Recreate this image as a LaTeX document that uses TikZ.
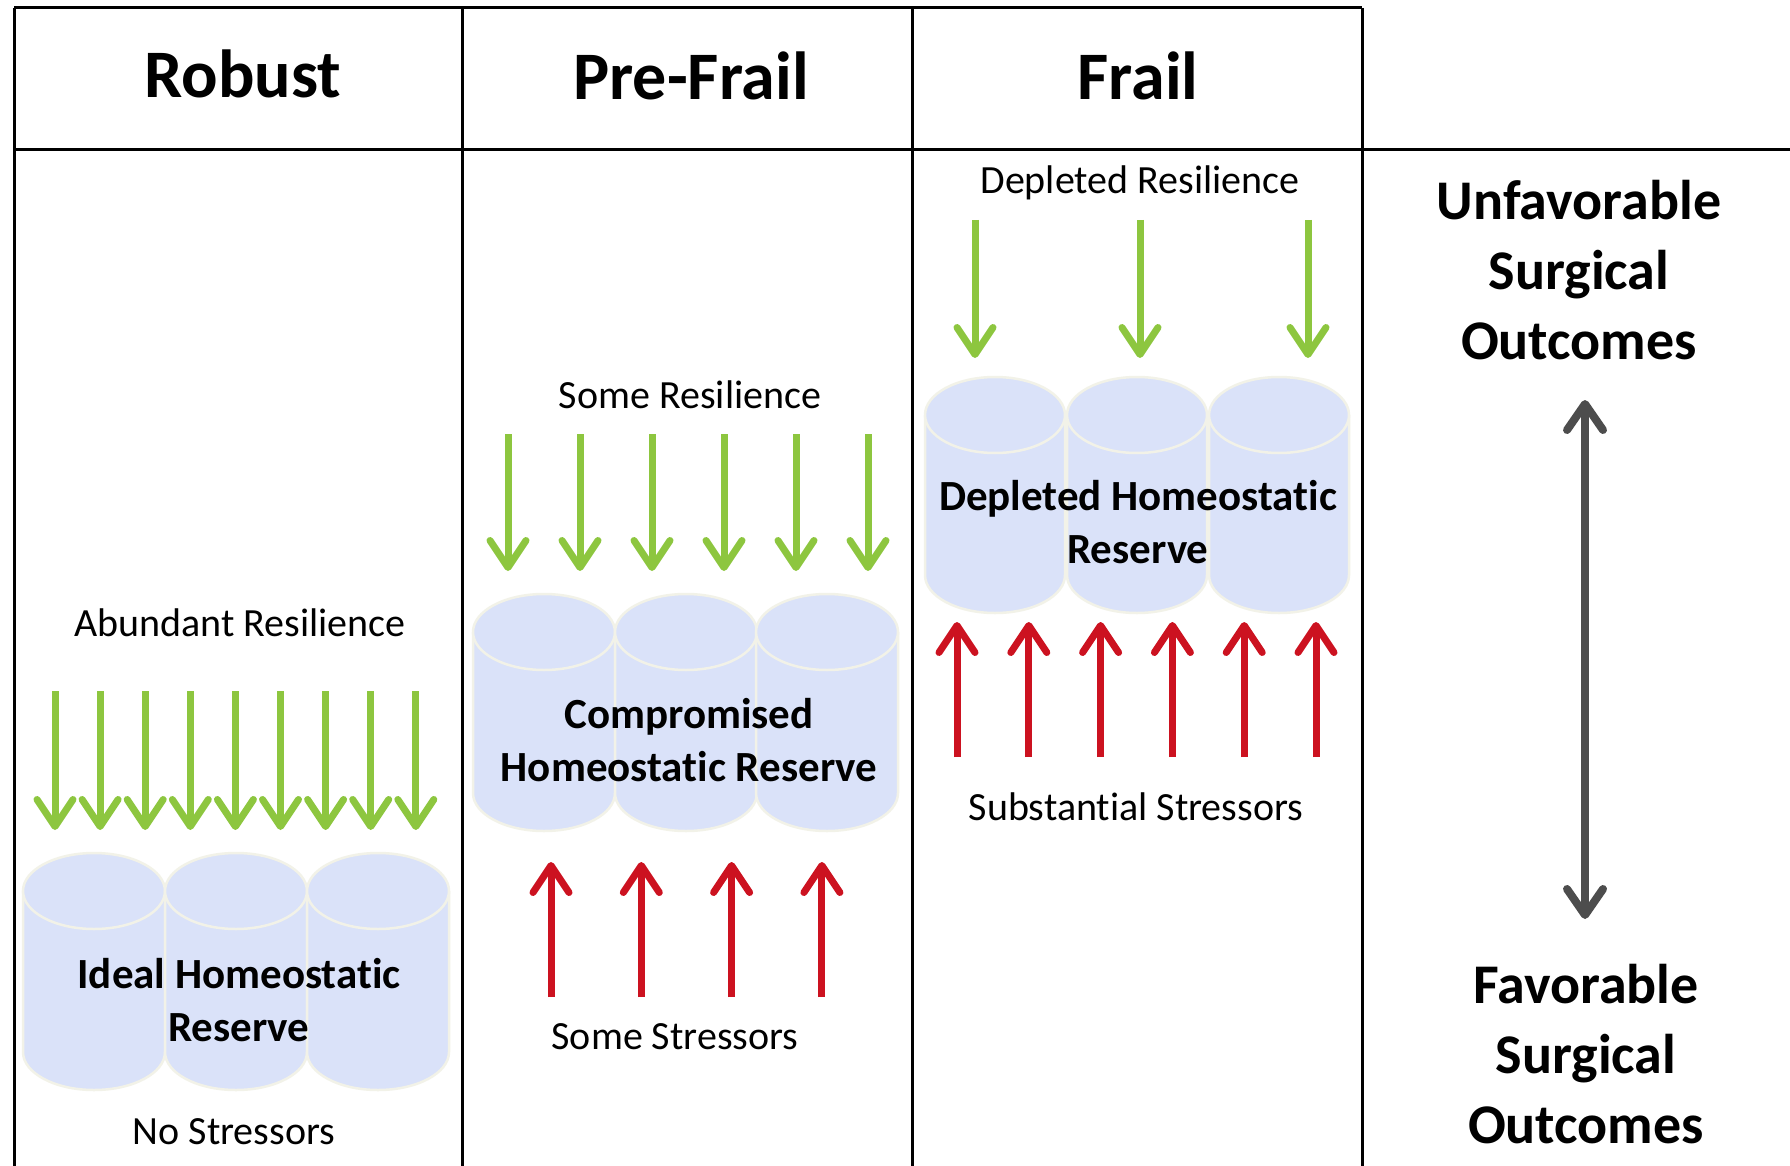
\documentclass[tikz,border=0pt]{standalone}
\usepackage{fontspec}
\setmainfont{Carlito}[RawFeature={-liga;-clig;-dlig;-calt}]
\usetikzlibrary{arrows.meta}
\definecolor{arrgreen}{RGB}{141,198,63}
\definecolor{arrred}{RGB}{204,18,32}
\definecolor{arrgray}{RGB}{77,77,77}
\definecolor{cylfill}{RGB}{218,226,249}
\definecolor{cylline}{RGB}{242,242,232}
\newcommand\drawcyl[4]{%
  \fill[cylfill] (#1-#4,#2+38) rectangle (#1+#4,#3-38);
  \fill[cylfill] (#1,#3-38) ellipse[x radius=#4pt, y radius=38pt];
  \draw[cylline, line width=2.5pt] (#1-#4,#2+38) -- (#1-#4,#3-38)
     arc[start angle=180, end angle=360, x radius=#4pt, y radius=38pt] -- (#1+#4,#2+38);
  \draw[cylline, line width=2.5pt, fill=cylfill] (#1,#2+38) ellipse[x radius=#4pt, y radius=38pt];
}
\begin{document}
\begin{tikzpicture}[x=1pt,y=-1pt,
  gridline/.style={line width=3pt, black},
  lbl/.style={font=\fontsize{40}{48}\selectfont, inner sep=0pt},
  header/.style={font=\bfseries\fontsize{68}{80}\selectfont, inner sep=0pt},
  reserve/.style={font=\bfseries\fontsize{43}{53}\selectfont, align=center, inner sep=0pt},
  outcome/.style={font=\bfseries\fontsize{56}{70}\selectfont, align=center, inner sep=0pt},
  barb/.style={-{Straight Barb[length=27pt, width=36pt, round]}},
  resil/.style={arrgreen, line width=7pt, barb},
  stress/.style={arrred, line width=7pt, barb},
  outarrow/.style={arrgray, line width=8pt, {Straight Barb[length=26pt, width=36pt, round]}-{Straight Barb[length=26pt, width=36pt, round]}},
]
\fill[white] (0,0) rectangle (1790,1166);
\useasboundingbox (0,0) rectangle (1790,1166);

% table grid
\draw[gridline] (14,8) -- (1362,8);
\draw[gridline] (14,150) -- (1790,150);
\draw[gridline] (14,8) -- (14,1166);
\draw[gridline] (462,8) -- (462,1166);
\draw[gridline] (912,8) -- (912,1166);
\draw[gridline] (1362,8) -- (1362,1166);

% headers
\node[header] (hrob) at (243,74) {Robust};
\node[header] (hpre) at (691,76) {Pre-Frail};
\node[header] (hfra) at (1138,76) {Frail};

% Robust column
\node[lbl] (lrob) at (240,623) {Abundant Resilience};
\foreach \i in {0,...,8} {
  \pgfmathsetmacro\xx{55+45.1*\i}
  \coordinate (rga\i) at (\xx,691);
  \coordinate (rgb\i) at (\xx,830);
  \draw[resil] (rga\i) -- (rgb\i);
}
\drawcyl{94}{853}{1090}{71}
\drawcyl{236}{853}{1090}{71}
\drawcyl{378}{853}{1090}{71}
\node[reserve] (crob) at (239,1000) {Ideal Homeostatic\\Reserve};
\node[lbl] (srob) at (234,1132) {No Stressors};

% Pre-Frail column
\node[lbl] (lpre) at (690,395) {Some Resilience};
\foreach \i in {0,...,5} {
  \pgfmathsetmacro\xx{508+72*\i}
  \coordinate (pga\i) at (\xx,434);
  \coordinate (pgb\i) at (\xx,571);
  \draw[resil] (pga\i) -- (pgb\i);
}
\drawcyl{544}{594}{831}{71}
\drawcyl{686}{594}{831}{71}
\drawcyl{827}{594}{831}{71}
\node[reserve] (cpre) at (689,740) {Compromised\\Homeostatic Reserve};
\foreach \i in {0,...,3} {
  \pgfmathsetmacro\xx{551+90.3*\i}
  \coordinate (pra\i) at (\xx,997);
  \coordinate (prb\i) at (\xx,862);
  \draw[stress] (pra\i) -- (prb\i);
}
\node[lbl] (spre) at (675,1037) {Some Stressors};

% Frail column
\node[lbl] (lfra) at (1140,183) {Depleted Resilience};
\foreach \xx [count=\i] in {975,1140,1308} {
  \coordinate (fga\i) at (\xx,220);
  \coordinate (fgb\i) at (\xx,358);
  \draw[resil] (fga\i) -- (fgb\i);
}
\drawcyl{995}{377}{613}{70}
\drawcyl{1137}{377}{613}{70}
\drawcyl{1279}{377}{613}{70}
\node[reserve] (cfra) at (1138,522) {Depleted Homeostatic\\Reserve};
\foreach \i in {0,...,5} {
  \pgfmathsetmacro\xx{957+71.8*\i}
  \coordinate (fra\i) at (\xx,757);
  \coordinate (frb\i) at (\xx,622);
  \draw[stress] (fra\i) -- (frb\i);
}
\node[lbl] (sfra) at (1136,807) {Substantial Stressors};

% outcomes column
\node[outcome] (unfav) at (1579,270) {Unfavorable\\Surgical\\Outcomes};
\node[outcome] (fav) at (1586,1054) {Favorable\\Surgical\\Outcomes};
\coordinate (otop) at (1585,400);
\coordinate (obot) at (1585,919);
\draw[outarrow] (otop) -- (obot);
\end{tikzpicture}
\end{document}
